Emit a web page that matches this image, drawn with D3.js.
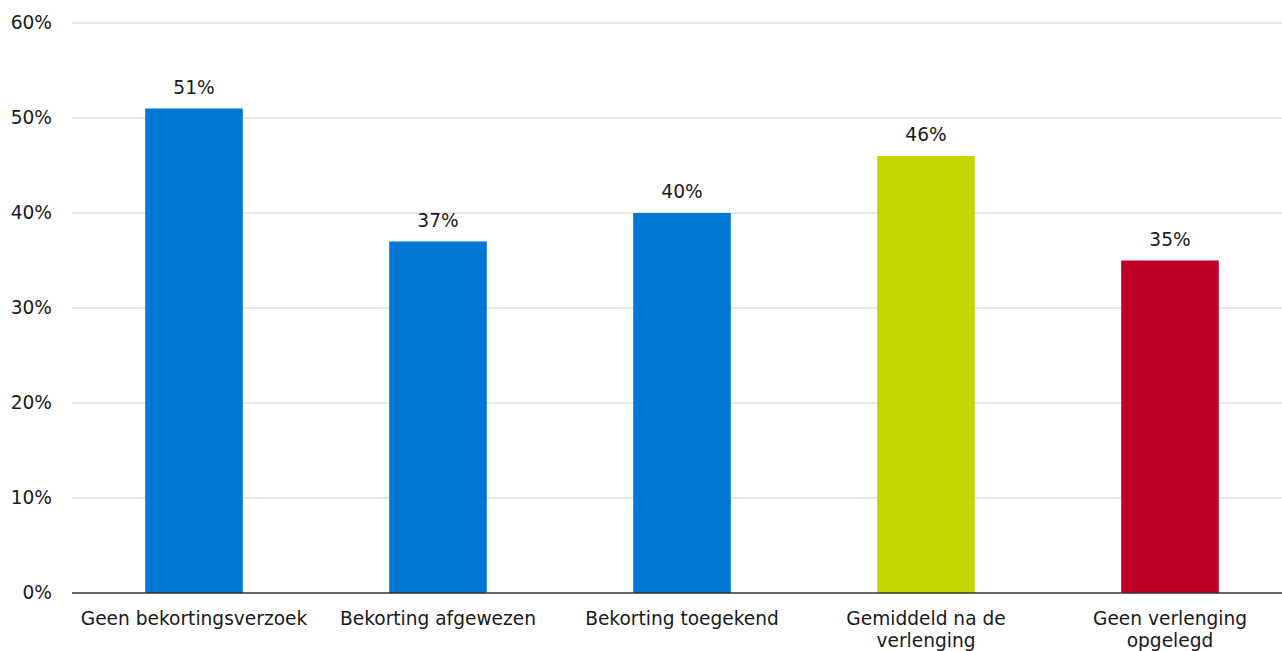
<!DOCTYPE html>
<html>
<head>
<meta charset="utf-8">
<script src="https://cdn.jsdelivr.net/npm/d3@7"></script>
<style>
  body { margin: 0; background: #fff; }
  text { font-family: "DejaVu Sans", Verdana, sans-serif; fill: #1a1a1a; }
</style>
</head>
<body>
<div id="chart"></div>
<script>
// Data
var categories = [
  ["Geen bekortingsverzoek"],
  ["Bekorting afgewezen"],
  ["Bekorting toegekend"],
  ["Gemiddeld na de", "verlenging"],
  ["Geen verlenging", "opgelegd"]
];
var values = [51, 37, 40, 46, 35];
var barColors = ["#0077d3", "#0077d3", "#0077d3", "#c3d600", "#be0028"];
var yTicks = [0, 10, 20, 30, 40, 50, 60];

var W = 1282, H = 651;
var margin = { top: 23, right: -10, bottom: 58, left: 72 };
var width = W - margin.left - margin.right,
    height = H - margin.top - margin.bottom;
var fs = "18.6px";

var svg = d3.select("#chart").append("svg")
  .attr("width", W).attr("height", H)
  .append("g")
  .attr("transform", "translate(" + margin.left + "," + margin.top + ")");

var x = d3.scaleBand()
  .domain(d3.range(values.length))
  .range([0, width])
  .paddingInner(0.6).paddingOuter(0.3);
var y = d3.scaleLinear().domain([0, 60]).range([height, 0]);

// gridlines
svg.selectAll(".grid").data(yTicks.slice(1)).enter().append("line")
  .attr("x1", 0).attr("x2", width)
  .attr("y1", function(d) { return y(d); })
  .attr("y2", function(d) { return y(d); })
  .attr("stroke", "#d0d0d0").attr("stroke-width", 1);

// y axis labels
var yAxis = d3.axisLeft(y).tickValues(yTicks).tickSize(0).tickPadding(20)
  .tickFormat(function(d) { return d + "%"; });
var gy = svg.append("g").call(yAxis);
gy.select(".domain").remove();
gy.selectAll("text").style("font-size", fs).attr("fill", "#1a1a1a")
  .attr("font-family", "DejaVu Sans, Verdana, sans-serif");

// bars
svg.selectAll(".bar").data(values).enter().append("rect")
  .attr("x", function(d, i) { return x(i); })
  .attr("y", function(d) { return y(d); })
  .attr("width", x.bandwidth())
  .attr("height", function(d) { return height - y(d); })
  .attr("fill", function(d, i) { return barColors[i]; });

// value labels
svg.selectAll(".val").data(values).enter().append("text")
  .attr("x", function(d, i) { return x(i) + x.bandwidth() / 2; })
  .attr("y", function(d) { return y(d) - 15; })
  .attr("text-anchor", "middle")
  .style("font-size", fs)
  .text(function(d) { return d + "%"; });

// baseline
svg.append("line")
  .attr("x1", 0).attr("x2", width)
  .attr("y1", height).attr("y2", height)
  .attr("stroke", "#333").attr("stroke-width", 1.5);

// category labels
var cat = svg.selectAll(".cat").data(categories).enter().append("text")
  .attr("text-anchor", "middle")
  .style("font-size", fs)
  .attr("transform", function(d, i) {
    return "translate(" + (x(i) + x.bandwidth() / 2) + "," + (height + 32) + ")";
  });
cat.selectAll("tspan").data(function(d) { return d; }).enter().append("tspan")
  .attr("x", 0)
  .attr("dy", function(d, i) { return i === 0 ? 0 : 22; })
  .text(function(d) { return d; });
</script>
</body>
</html>
